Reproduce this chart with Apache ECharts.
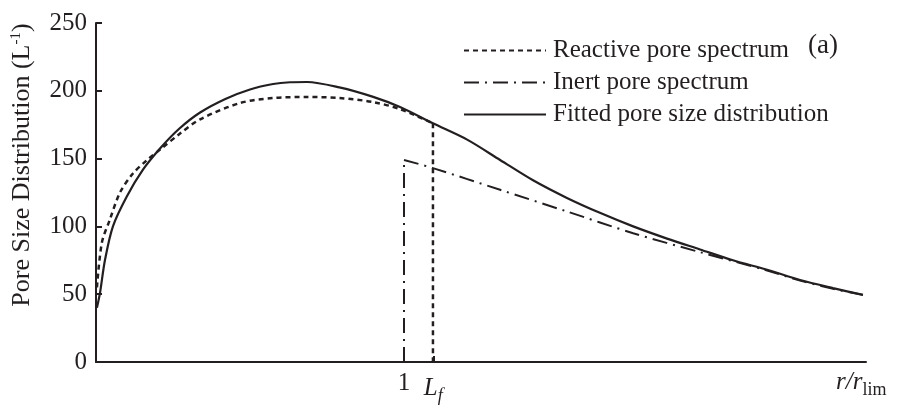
<!DOCTYPE html>
<html><head><meta charset="utf-8">
<script src="https://cdn.jsdelivr.net/npm/echarts@6/dist/echarts.min.js"></script>
<style>html,body{margin:0;padding:0;background:#fff}#c{width:898px;height:420px}</style>
</head><body><div id="c"></div>
<script>
// Fitted pore size distribution (solid)
const fitX = [0.003,0.013,0.029,0.055,0.10,0.153,0.21,0.27,0.338,0.42,0.5,0.575,0.63,0.685,0.79,0.90,0.987,1.094,1.205,1.312,1.419,1.529,1.636,1.744,1.854,1.961,2.068,2.179,2.286,2.393,2.49];
const fitY = [40,51,75,100,122,142,158,172,184,194,201,205,206.3,206.5,202.5,195.5,188,176,164,149,134,121,110,100,91,83,75,68,60.5,54.5,49.5];
// Reactive pore spectrum (dotted): curve, then the vertical drop at L_f
const reaX = [0.003,0.019,0.045,0.078,0.12,0.166,0.21,0.27,0.338,0.468,0.575,0.685,0.79,0.90,0.987,1.094];
const reaY = [55,88,105,125,139,149,157,168,179,191,194.7,195.4,194.7,191.7,186.5,176];
const reaDropX = [1.094,1.094];
const reaDropY = [176,0];
// Inert pore spectrum (dash-dot): vertical rise at 1, then the curve
const ineRiseX = [1.0,1.0];
const ineRiseY = [0,149];
const ineX = [1.0,1.094,1.312,1.529,1.744,1.961,2.179,2.286,2.393,2.49];
const ineY = [149,143,127,111,95,81,67.5,60,54,49.5];
// Axis ticks
const yTicks = [0,50,100,150,200,250];
const xTickValues = [1,1.095];
const xTickLabels = ['1','{i|L}{sub|f}'];
const seriesNames = ['Reactive pore spectrum','Inert pore spectrum','Fitted pore size distribution'];

const ink = '#231f20';
const font = 'Liberation Serif';
const zip = (a,b)=>a.map((v,i)=>[v,b[i]]);
const reaStyle = {color:ink,width:2.5,type:[5,4]};
const ineStyle = {color:ink,width:2,type:[15,6,2,6]};

const chart = echarts.init(document.getElementById('c'));
chart.setOption({
  animation:false,
  backgroundColor:'#fff',
  grid:{left:96,right:32,top:23,bottom:58},
  legend:{
    orient:'vertical', left:458, top:33, itemGap:7,
    itemWidth:82, itemHeight:14,
    data:seriesNames,
    itemStyle:{opacity:0},
    textStyle:{fontFamily:font,fontSize:25,color:ink,padding:[0,0,0,2]}
  },
  xAxis:{
    type:'value', min:0, max:2.5,
    axisLine:{lineStyle:{color:ink,width:2}},
    splitLine:{show:false},
    axisTick:{inside:true,length:6,lineStyle:{color:ink,width:2},customValues:xTickValues},
    axisLabel:{
      customValues:xTickValues, margin:9,
      fontFamily:font,fontSize:25,color:ink,
      formatter:(v)=>{const i=xTickValues.indexOf(v);return i>=0?xTickLabels[i]:'';},
      rich:{
        i:{fontFamily:font,fontSize:25,fontStyle:'italic',color:ink},
        sub:{fontFamily:font,fontSize:18,fontStyle:'italic',color:ink,padding:[16,0,0,0]}
      }
    }
  },
  yAxis:{
    type:'value', min:0, max:250, interval:50,
    axisLine:{show:true,lineStyle:{color:ink,width:2}},
    splitLine:{show:false},
    axisTick:{show:true,inside:true,length:6,lineStyle:{color:ink,width:2}},
    axisLabel:{fontFamily:font,fontSize:25,color:ink,margin:9,
      formatter:(v)=>yTicks.includes(v)?String(v):''}
  },
  series:[
    {name:seriesNames[0],type:'line',symbol:'none',data:zip(reaX,reaY),smooth:0.3,
     lineStyle:reaStyle,itemStyle:{color:ink}},
    {name:seriesNames[0],type:'line',symbol:'none',data:zip(reaDropX,reaDropY),
     lineStyle:reaStyle,itemStyle:{color:ink}},
    {name:seriesNames[1],type:'line',symbol:'none',data:zip(ineX,ineY),smooth:0.3,
     lineStyle:ineStyle,itemStyle:{color:ink}},
    {name:seriesNames[1],type:'line',symbol:'none',data:zip(ineRiseX,ineRiseY),
     lineStyle:ineStyle,itemStyle:{color:ink}},
    {name:seriesNames[2],type:'line',symbol:'none',data:zip(fitX,fitY),smooth:0.3,
     lineStyle:{color:ink,width:2.2},itemStyle:{color:ink}}
  ],
  graphic:[
    {type:'text',left:808,top:32,style:{text:'(a)',font:'27px "Liberation Serif"',fill:ink}},
    {type:'text',x:22,y:165,rotation:Math.PI/2,
     style:{text:'{a|Pore Size Distribution (L}{sup|-1}{a|)}',align:'center',verticalAlign:'middle',
       rich:{a:{fontFamily:font,fontSize:26,fill:ink},sup:{fontFamily:font,fontSize:15,fill:ink,padding:[0,0,12,0]}}}},
    {type:'text',left:836,top:370,
     style:{text:'{i|r/r}{sub|lim}',
       rich:{i:{fontFamily:font,fontSize:25,fontStyle:'italic',fill:ink},sub:{fontFamily:font,fontSize:18,fill:ink,padding:[16,0,0,0]}}}}
  ]
});
</script></body></html>
